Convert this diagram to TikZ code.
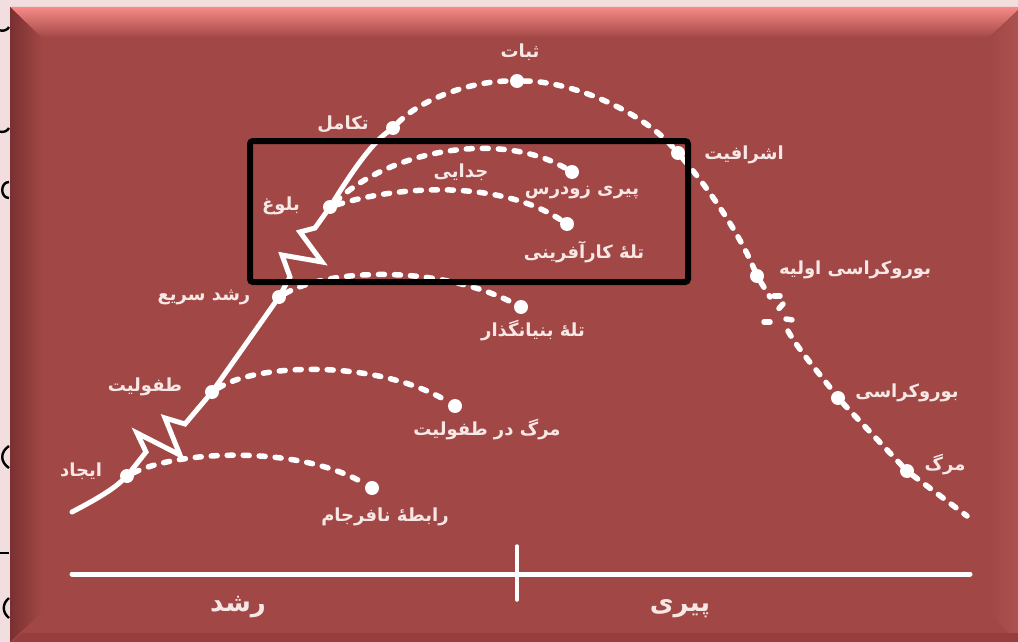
\documentclass[tikz,border=0pt]{standalone}
\usepackage{fontspec}
\usepackage{xcolor}
\newfontfamily\arabicfont[Script=Arabic]{DejaVu Sans}
\TeXXeTstate=1
\newcommand{\fatxt}[1]{\beginR #1\endR}

\definecolor{bgpink}{RGB}{242,222,222}
\definecolor{panel}{RGB}{161,71,70}
\definecolor{bevtop}{RGB}{246,138,134}
\definecolor{bevmid}{RGB}{190,90,88}
\definecolor{bevleft}{RGB}{122,48,48}
\definecolor{bevright}{RGB}{172,82,80}
\definecolor{bevbottom}{RGB}{150,62,62}
\definecolor{labeltext}{RGB}{247,232,230}

\begin{document}
\begin{tikzpicture}[x=1pt, y=-1pt,
dot/.style={circle, fill=white, inner sep=0pt, minimum size=14pt},
lbl/.style={text=labeltext, inner sep=0pt, font=\arabicfont\bfseries\fontsize{18}{20}\selectfont},
biglbl/.style={text=labeltext, inner sep=0pt, font=\arabicfont\bfseries\fontsize{26}{28}\selectfont},
solidline/.style={draw=white, line width=5pt, line cap=round},
dashline/.style={draw=white, line width=5.5pt, line cap=round, dash pattern=on 6pt off 10pt},
frame/.style={draw=black, line width=6pt, rounded corners=3pt}]
\useasboundingbox (0,0) rectangle (1018,642);

% slide background and bevelled panel
\fill[bgpink] (0,0) rectangle (1018,642);
\fill[panel] (10,7) rectangle (1018,642);
\shade[top color=bevtop, middle color=bevmid, bottom color=panel] (10,7) -- (1018,7) -- (1018,10) -- (988,38) -- (42,38) -- cycle;
\shade[left color=bevleft, right color=panel] (10,7) -- (42,38) -- (42,612) -- (10,642) -- cycle;
\shade[left color=panel, right color=bevright] (1018,10) -- (990,38) -- (990,614) -- (1018,642) -- cycle;
\fill[bevbottom] (22,633) -- (1018,633) -- (1018,642) -- (12,642) -- cycle;

% cut-off letters of the slide text behind the panel
\begin{scope}
\clip (0,0) rectangle (10,642);
\draw[black, line width=2.4pt] (-6,22) .. controls (-6,32) and (6,33) .. (9,27);
\draw[black, line width=2.4pt] (-6,122) .. controls (-6,134) and (6,134) .. (9,128);
\draw[black, line width=2.4pt] (9,182) .. controls (0,182) and (0,198) .. (9,198);
\draw[black, line width=2.4pt] (9,446) .. controls (0,452) and (0,462) .. (9,468);
\draw[black, line width=2.4pt] (-4,553) -- (9,553);
\draw[black, line width=2.4pt] (9,598) .. controls (2,604) and (2,612) .. (9,618);
\end{scope}

% stages on the curve
\node[dot] (ejad) at (127,476) {};
\node[dot] (tofuliat) at (212,392) {};
\node[dot] (roshdsari) at (279,297) {};
\node[dot] (bolugh) at (330,207) {};
\node[dot] (takamol) at (393,128) {};
\node[dot] (sobat) at (517,81) {};
\node[dot] (ashrafiat) at (678,153) {};
\node[dot] (burooavval) at (757,276) {};
\node[dot] (buroo) at (838,398) {};
\node[dot] (marg) at (907,471) {};
\coordinate (curvestart) at (72,512);
\coordinate (curveend) at (967,516);

% ends of the failure branches
\node[dot] (rabeta) at (372,488) {};
\node[dot] (margtof) at (455,406) {};
\node[dot] (bonyan) at (521,307) {};
\node[dot] (pirizud) at (572,172) {};
\node[dot] (karafarini) at (567,224) {};

% growth curve
\draw[solidline] (curvestart) .. controls (95,500) and (112,490) .. (ejad);
\draw[solidline, line join=miter] (ejad) -- (146,452) -- (137,433) -- (180,455) -- (165,418) -- (185,424) -- (tofuliat);
\draw[solidline] (tofuliat) -- (roshdsari);
\draw[solidline, line join=miter] (roshdsari) -- (290,277) -- (282,255) -- (322,262) -- (300,232) -- (315,228) -- (bolugh);
\draw[solidline] (bolugh) .. controls (350,175) and (370,145) .. (takamol);

% ageing curve
\draw[dashline] (takamol) .. controls (420,100) and (470,81) .. (sobat);
\draw[dashline] (sobat) .. controls (570,81) and (640,110) .. (ashrafiat);
\draw[dashline] (ashrafiat) .. controls (710,190) and (740,235) .. (burooavval);
\draw[dashline] (burooavval) -- (770,297);
\draw[dashline] (774,296) -- (788,296);
\draw[dashline] (783,304) -- (774,314);
\draw[dashline] (764,322) -- (774,322);
\draw[dashline] (786,319) -- (800,321);
\draw[dashline] (788,331) .. controls (800,352) and (820,374) .. (buroo);
\draw[dashline] (buroo) -- (marg);
\draw[dashline] (marg) -- (curveend);

% failure branches
\draw[dashline] (ejad) .. controls (180,450) and (300,445) .. (rabeta);
\draw[dashline] (tofuliat) .. controls (260,362) and (380,360) .. (margtof);
\draw[dashline] (roshdsari) .. controls (330,268) and (440,265) .. (bonyan);
\draw[dashline] (bolugh) .. controls (390,150) and (500,130) .. (pirizud);
\draw[dashline] (bolugh) .. controls (400,185) and (500,180) .. (karafarini);

% labels
\node[lbl] (lsobat) at (520,52) {\fatxt{ثبات}};
\node[lbl] (ltakamol) at (343,124) {\fatxt{تکامل}};
\node[lbl] (lashrafiat) at (744,155) {\fatxt{اشرافیت}};
\node[lbl] (lbolugh) at (281,206) {\fatxt{بلوغ}};
\node[lbl] (lroshdsari) at (204,297) {\fatxt{رشد سریع}};
\node[lbl] (ltofuliat) at (145,387) {\fatxt{طفولیت}};
\node[lbl] (lejad) at (81,471) {\fatxt{ایجاد}};
\node[lbl] (lrabeta) at (385,517) {\fatxt{رابطهٔ نافرجام}};
\node[lbl] (lmargtof) at (487,430) {\fatxt{مرگ در طفولیت}};
\node[lbl] (lbonyan) at (533,331) {\fatxt{تلهٔ بنیانگذار}};
\node[lbl] (ljodaei) at (461,172) {\fatxt{جدایی}};
\node[lbl] (lpirizud) at (582,193) {\fatxt{پیری زودرس}};
\node[lbl] (lkarafarini) at (584,252) {\fatxt{تلهٔ کارآفرینی}};
\node[lbl] (lburooavval) at (855,270) {\fatxt{بوروکراسی اولیه}};
\node[lbl] (lburoo) at (907,393) {\fatxt{بوروکراسی}};
\node[lbl] (lmarg) at (945,465) {\fatxt{مرگ}};

% highlight frame
\draw[frame] (250,141) rectangle (688,282);

% time axis
\coordinate (axisleft) at (72,574);
\coordinate (axisright) at (970,574);
\coordinate (ticktop) at (517,546);
\coordinate (tickbottom) at (517,600);
\draw[white, line width=5pt, line cap=round] (axisleft) -- (axisright);
\draw[white, line width=3.5pt, line cap=round] (ticktop) -- (tickbottom);
\node[biglbl] (lroshd) at (238,607) {\fatxt{رشد}};
\node[biglbl] (lpiri) at (680,609) {\fatxt{پیری}};
\end{tikzpicture}
\end{document}
